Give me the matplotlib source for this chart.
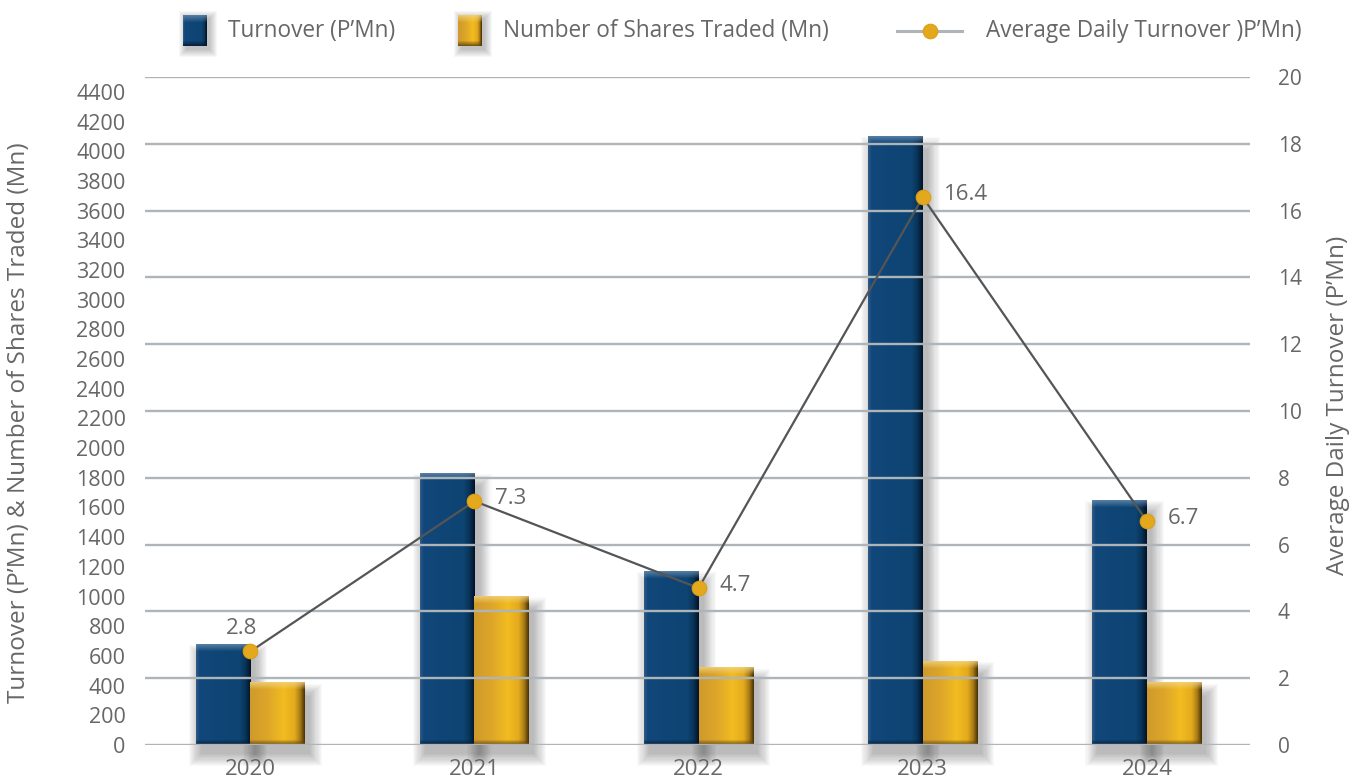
import numpy as np
import matplotlib.pyplot as plt
from matplotlib.patches import Rectangle
from matplotlib.lines import Line2D

plt.rcParams['font.family'] = ['Open Sans', 'DejaVu Sans']

# Market activity by year
years = ['2020', '2021', '2022', '2023', '2024']
turnover = [680, 1830, 1170, 4100, 1650]          # P'Mn
shares_traded = [420, 1000, 520, 565, 420]        # Mn
avg_daily_turnover = [2.8, 7.3, 4.7, 16.4, 6.7]   # P'Mn

left_ticks = list(range(0, 4401, 200))
right_ticks = list(range(0, 21, 2))

W, H = 1361, 778
TEXT = '#676767'
GRID = '#AEB4B8'

# colour stops across the bar width, plus top highlight / bottom edge colours
BLUE = dict(stops=[(0, '#2C5A85'), (0.06, '#11477A'), (0.8, '#0E4472'),
                   (0.9, '#0A355C'), (1, '#03142A')],
            top='#6A8FB2', bottom='#041A30')
GOLD = dict(stops=[(0, '#D09A2C'), (0.3, '#DCA52A'), (0.62, '#F2BC20'),
                   (0.82, '#E3AA1E'), (0.92, '#A97B15'), (1, '#4E3606')],
            top='#F4D582', bottom='#5C420A')


def hex2rgb(h):
    return np.array([int(h[i:i + 2], 16) / 255 for i in (1, 3, 5)])


def bar_image(style, nx, ny):
    t = np.linspace(0, 1, nx)
    pos = [s[0] for s in style['stops']]
    cols = np.array([hex2rgb(s[1]) for s in style['stops']])
    row = np.stack([np.interp(t, pos, cols[:, c]) for c in range(3)], axis=-1)
    img = np.tile(row[None, :, :], (ny, 1, 1))
    top, bot = hex2rgb(style['top']), hex2rgb(style['bottom'])
    ntop = min(7, ny)
    for r in range(ntop):
        w = 0.75 * (1 - r / ntop)
        img[r] = img[r] * (1 - w) + top * w
    nbot = min(5, ny)
    for r in range(nbot):
        w = 0.8 * (1 - r / nbot)
        img[ny - 1 - r] = img[ny - 1 - r] * (1 - w) + bot * w
    return img


fig = plt.figure(figsize=(W / 100, H / 100), dpi=100)
fig.patch.set_facecolor('white')
ax = fig.add_axes([145 / W, 1 - 745 / H, (1250 - 145) / W, (745 - 77) / H])
ax2 = ax.twinx()

x = np.arange(len(years))
bw = 0.243
ax.set_xlim(-0.47, 4.46)
ax.set_ylim(0, 4500)
ax2.set_ylim(0, 20)

bb = ax.get_window_extent()
ux = (ax.get_xlim()[1] - ax.get_xlim()[0]) / bb.width    # data units per pixel
uy = (ax.get_ylim()[1] - ax.get_ylim()[0]) / bb.height


def draw_bar(x0, h, style):
    # soft drop shadow
    for k in range(12):
        s = k * 1.1
        ax.add_patch(Rectangle((x0 + 5 * ux - s * ux, -9 * uy - s * uy),
                               bw + 2 * s * ux, h + 2 * s * uy - 4 * uy,
                               facecolor='black', edgecolor='none', alpha=0.022,
                               zorder=1, clip_on=False))
    nx = max(int(round(bw / ux)), 2)
    ny = max(int(round(h / uy)), 2)
    ax.imshow(bar_image(style, nx, ny), extent=[x0, x0 + bw, 0, h],
              aspect='auto', interpolation='bilinear', zorder=2)


for xi, t, s in zip(x, turnover, shares_traded):
    draw_bar(xi - bw, t, BLUE)
    draw_bar(xi, s, GOLD)

ax.set_xlim(-0.47, 4.46)
ax.set_ylim(0, 4500)

# average daily turnover line on the right axis
ax2.plot(x, avg_daily_turnover, color='#555555', lw=1.6, zorder=5)
ax2.plot(x, avg_daily_turnover, ls='none', marker='o', ms=10.5,
         mfc='#E4A81C', mec='#D99F18', mew=0.8, zorder=6)
for i, (xi, v) in enumerate(zip(x, avg_daily_turnover)):
    if i == 0:
        ax2.annotate(f'{v}', (xi, v), xytext=(-9, 23), textcoords='offset pixels',
                     ha='center', va='center', fontsize=16, color=TEXT)
    else:
        ax2.annotate(f'{v}', (xi, v), xytext=(21, 3), textcoords='offset pixels',
                     ha='left', va='center', fontsize=16, color=TEXT)

ax2.set_yticks(right_ticks)
ax2.grid(axis='y', color=GRID, lw=1.7)
ax.set_yticks(left_ticks)
ax.set_xticks(x, years)

for a in (ax, ax2):
    for sp in a.spines.values():
        sp.set_visible(False)
    a.tick_params(length=0, colors=TEXT)
ax.tick_params(axis='y', labelsize=15.5, pad=14)
ax2.tick_params(axis='y', labelsize=15, pad=20)
ax.tick_params(axis='x', labelsize=16, pad=10)

ax.set_ylabel('Turnover (P’Mn) & Number of Shares Traded (Mn)', fontsize=17.5, color=TEXT)
ax.yaxis.set_label_coords(-0.103, 0.483)
ax2.set_ylabel('Average Daily Turnover (P’Mn)', fontsize=17.5, color=TEXT, rotation=90)
ax2.yaxis.set_label_coords(1.069, 0.508)

# legend along the top
ly = 1 - 31 / H
for x0, style in ((183, BLUE), (458, GOLD)):
    for k in range(8):
        fig.add_artist(Rectangle(((x0 + 3 - k) / W, 1 - (50 + k) / H), (24 + 2 * k) / W,
                                 (32 + 2 * k) / H, transform=fig.transFigure,
                                 facecolor='black', edgecolor='none', alpha=0.03))
    fig.figimage(bar_image(style, 24, 31), xo=x0, yo=H - 46, origin='upper', zorder=3)
fig.text(228 / W, ly, 'Turnover (P’Mn)', va='center', fontsize=16.3, color=TEXT)
fig.text(503 / W, ly, 'Number of Shares Traded (Mn)', va='center', fontsize=16.3, color=TEXT)
fig.add_artist(Line2D([897 / W, 962 / W], [ly, ly], transform=fig.transFigure,
                      color=GRID, lw=2.2))
fig.add_artist(Line2D([930 / W], [ly], transform=fig.transFigure, marker='o', ms=10.5,
                      mfc='#E4A81C', mec='#D99F18', mew=0.8))
fig.text(986 / W, ly, 'Average Daily Turnover )P’Mn)', va='center', fontsize=16.3, color=TEXT)

fig.savefig('out.png', dpi=100, facecolor='white')
